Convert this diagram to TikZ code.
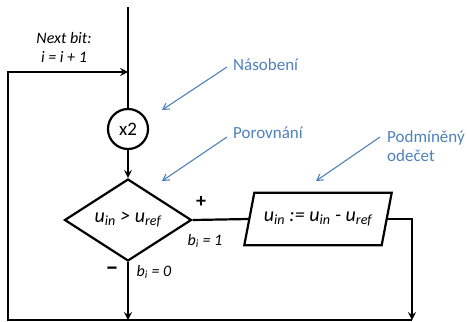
\documentclass[tikz,border=0pt]{standalone}
\usepackage{fontspec}
\setmainfont{Carlito}
\usetikzlibrary{shapes.geometric,arrows.meta}

\begin{document}
\begin{tikzpicture}[x=1pt, y=-1pt, every node/.style={font=\fontsize{17}{19}\selectfont}]
		% Define colors
		\definecolor{noteblue}{RGB}{79, 129, 189}

		% Styles
		\tikzstyle{flow} = [draw=black, line width=2.2pt]
		\tikzstyle{flow_arrow} = [flow, -{Stealth[length=8pt, width=8pt, inset=3pt]}]
		\tikzstyle{mult_node} = [circle, flow, minimum size=40pt, inner sep=0pt, font=\fontsize{19}{21}\selectfont]
		\tikzstyle{cmp_node} = [diamond, flow, minimum width=127pt, minimum height=76pt, inner sep=0pt, font=\fontsize{20}{22}\selectfont\itshape]
		\tikzstyle{sub_node} = [rectangle, minimum width=137pt, minimum height=52pt, inner sep=0pt, font=\fontsize{20}{22}\selectfont\itshape]
		\tikzstyle{edge_label} = [font=\fontsize{16}{18}\selectfont\itshape, inner sep=0pt]
		\tikzstyle{note_label} = [text=noteblue, align=left, anchor=west, inner sep=2pt]
		\tikzstyle{note_arrow} = [draw=noteblue, line width=1.1pt, -{Straight Barb[length=6pt, width=7pt]}]

		\useasboundingbox (0, 0) rectangle (467, 322);

		% Flow chart nodes
		\node[mult_node] (mult) at (128, 129) {x2};
		\node[cmp_node] (cmp) at (128, 220) {u\textsubscript{in} > u\textsubscript{ref}};
		\node[sub_node] (sub) at (318, 219) {u\textsubscript{in} := u\textsubscript{in} - u\textsubscript{ref}};
		\draw[flow] ([xshift=-5pt]sub.south west) -- ([xshift=5pt]sub.north west) -- ([xshift=5pt]sub.north east) -- ([xshift=-5pt]sub.south east) -- cycle;

		% Junction points
		\coordinate (top) at (128, 7);
		\coordinate (loopin) at (128, 72);
		\coordinate (loopup) at (8, 72);
		\coordinate (loopdown) at (8, 320);
		\coordinate (zeroend) at (128, 320);
		\coordinate (oneend) at (412, 320);

		% Connectors
		\draw[flow] (top) -- (mult.north);
		\draw[flow_arrow] (mult.south) -- (cmp.north);
		\draw[flow] (cmp.east) -- (sub.west);
		\draw[flow_arrow] (sub.east) -| (oneend);
		\draw[flow_arrow] (cmp.south) -- (zeroend);
		\draw[flow_arrow] (oneend) -- (loopdown) -- (loopup) -- (loopin);

		% Labels on the flow
		\node[edge_label, align=center, font=\fontsize{16}{18}\selectfont\itshape] (next) at (64, 47) {Next bit:\\[1pt] i = i + 1};
		\node[font=\fontsize{20}{22}\selectfont\bfseries] (plus) at (201, 202) {+};
		\node[font=\fontsize{26}{28}\selectfont\bfseries] (minus) at (112, 271) {--};
		\node[edge_label] (bone) at (205, 241) {b\textsubscript{i} = 1};
		\node[edge_label] (bzero) at (154, 272) {b\textsubscript{i} = 0};

		% Blue notes
		\node[note_label] (lblmult) at (231, 65) {Násobení};
		\node[note_label] (lblcmp) at (231, 133) {Porovnání};
		\node[note_label] (lblsub) at (385, 146) {Podmíněný\\odečet};
		\coordinate (ptmult) at (162, 110);
		\coordinate (ptcmp) at (162, 181);
		\coordinate (ptsub) at (316, 181);
		\draw[note_arrow] ([xshift=-4pt, yshift=-2pt]lblmult.west) -- (ptmult);
		\draw[note_arrow] ([xshift=-4pt, yshift=-4pt]lblcmp.west) -- (ptcmp);
		\draw[note_arrow] ([xshift=-5pt, yshift=9pt]lblsub.west) -- (ptsub);

	\end{tikzpicture}
\end{document}
